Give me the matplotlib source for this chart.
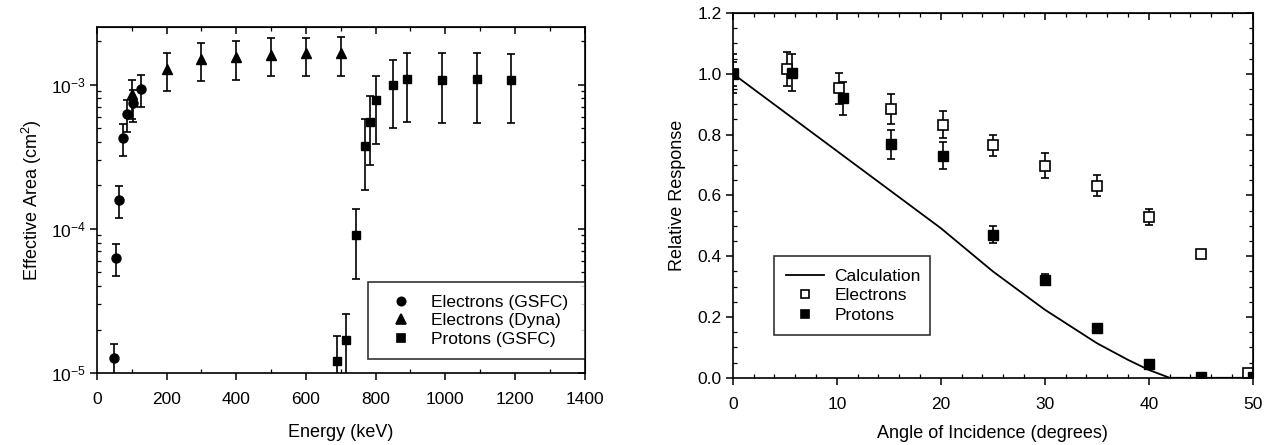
import matplotlib
matplotlib.use("Agg")
import matplotlib.pyplot as plt
from matplotlib.lines import Line2D
from matplotlib.ticker import MultipleLocator, LogLocator, NullFormatter

plt.rcParams["font.family"] = ["Liberation Sans", "DejaVu Sans"]
plt.rcParams["mathtext.fontset"] = "custom"
plt.rcParams["mathtext.rm"] = "Liberation Sans"
plt.rcParams["mathtext.it"] = "Liberation Sans"
plt.rcParams["font.size"] = 12.5

# left panel: effective area vs energy
gsfc_e_energy = [50, 55, 63, 75, 85, 103, 125]
gsfc_e_area = [1.27e-5, 6.3e-5, 1.57e-4, 4.25e-4, 6.27e-4, 7.4e-4, 9.3e-4]
gsfc_e_low = [9.0e-6, 4.7e-5, 1.18e-4, 3.2e-4, 4.7e-4, 5.5e-4, 7.0e-4]
gsfc_e_high = [1.58e-5, 7.8e-5, 1.98e-4, 5.35e-4, 7.8e-4, 9.1e-4, 1.16e-3]

dyna_e_energy = [100, 200, 300, 400, 500, 600, 700]
dyna_e_area = [8.6e-4, 1.29e-3, 1.51e-3, 1.55e-3, 1.61e-3, 1.66e-3, 1.66e-3]
dyna_e_low = [5.8e-4, 9.0e-4, 1.05e-3, 1.08e-3, 1.14e-3, 1.15e-3, 1.15e-3]
dyna_e_high = [1.08e-3, 1.66e-3, 1.94e-3, 2.0e-3, 2.1e-3, 2.1e-3, 2.13e-3]

gsfc_p_energy = [690, 715, 745, 770, 785, 800, 850, 890, 990, 1090, 1190]
gsfc_p_area = [1.2e-5, 1.69e-5, 9.0e-5, 3.72e-4, 5.48e-4, 7.75e-4, 9.85e-4, 1.10e-3, 1.07e-3, 1.09e-3, 1.07e-3]
gsfc_p_low = [9.0e-6, 9.0e-6, 4.5e-5, 1.87e-4, 2.75e-4, 3.85e-4, 4.98e-4, 5.48e-4, 5.4e-4, 5.45e-4, 5.4e-4]
gsfc_p_high = [1.8e-5, 2.55e-5, 1.36e-4, 5.8e-4, 8.3e-4, 1.15e-3, 1.48e-3, 1.66e-3, 1.66e-3, 1.66e-3, 1.64e-3]

# right panel: relative response vs angle
calc_angle = [0, 5, 10, 15, 20, 25, 30, 35, 38, 40, 42, 50]
calc_response = [1.0, 0.873, 0.746, 0.619, 0.492, 0.35, 0.224, 0.114, 0.059, 0.026, 0.0, 0.0]

elec_angle = [0, 5.2, 10.2, 15.2, 20.2, 25, 30, 35, 40, 45, 49.5]
elec_response = [1.0, 1.015, 0.952, 0.884, 0.832, 0.764, 0.698, 0.632, 0.530, 0.407, 0.015]
elec_err = [0.04, 0.055, 0.05, 0.048, 0.045, 0.036, 0.041, 0.035, 0.026, 0.014, 0.0]

prot_angle = [0, 5.7, 10.6, 15.2, 20.2, 25, 30, 35, 40, 45, 50]
prot_response = [1.0, 1.004, 0.919, 0.768, 0.730, 0.470, 0.322, 0.163, 0.046, 0.003, 0.003]
prot_err = [0.065, 0.06, 0.055, 0.047, 0.044, 0.028, 0.018, 0.0, 0.0, 0.0, 0.0]


def asym(values, low, high):
    return [[v - lo for v, lo in zip(values, low)], [hi - v for v, hi in zip(values, high)]]


def marker_handle(marker, size, face="black"):
    return Line2D([], [], linestyle="none", marker=marker, markersize=size,
                  markerfacecolor=face, markeredgecolor="black", markeredgewidth=1.2)


fig = plt.figure(figsize=(12.68, 4.45), dpi=100)
ax1 = fig.add_axes([0.0765, 0.162, 0.3845, 0.777])
ax2 = fig.add_axes([0.578, 0.151, 0.410, 0.820])

bar_kw = dict(color="black", ecolor="black", elinewidth=1.2, capsize=3, capthick=1.2, linestyle="none")
ax1.errorbar(gsfc_e_energy, gsfc_e_area, yerr=asym(gsfc_e_area, gsfc_e_low, gsfc_e_high),
             marker="o", markersize=6.5, **bar_kw)
ax1.errorbar(dyna_e_energy, dyna_e_area, yerr=asym(dyna_e_area, dyna_e_low, dyna_e_high),
             marker="^", markersize=7, **bar_kw)
ax1.errorbar(gsfc_p_energy, gsfc_p_area, yerr=asym(gsfc_p_area, gsfc_p_low, gsfc_p_high),
             marker="s", markersize=6, **bar_kw)

ax1.set_yscale("log")
ax1.set_xlim(0, 1400)
ax1.set_ylim(1e-5, 2.5e-3)
ax1.xaxis.set_major_locator(MultipleLocator(200))
ax1.xaxis.set_minor_locator(MultipleLocator(100))
ax1.yaxis.set_major_locator(LogLocator(base=10))
ax1.yaxis.set_minor_locator(LogLocator(base=10, subs=range(2, 10)))
ax1.yaxis.set_minor_formatter(NullFormatter())
ax1.set_xlabel("Energy (keV)", fontsize=13, labelpad=12)
ax1.set_ylabel("Effective Area (cm$^2$)", fontsize=13, labelpad=5)
leg1 = ax1.legend([marker_handle("o", 6), marker_handle("^", 6.5), marker_handle("s", 5.5)],
                  ["Electrons (GSFC)", "Electrons (Dyna)", "Protons (GSFC)"],
                  loc="lower left", bbox_to_anchor=(0.555, 0.04, 0.445, 0.252), mode="expand",
                  borderaxespad=0, frameon=True, fancybox=False, edgecolor="black", fontsize=12.5,
                  handlelength=2.5, handletextpad=0.48, borderpad=0.7, labelspacing=0.2)
leg1.get_frame().set_linewidth(1.2)

ax2.plot(calc_angle, calc_response, color="black", linewidth=1.3)
ax2.errorbar(elec_angle, elec_response, yerr=elec_err, marker="s", markersize=6.5,
             markerfacecolor="white", markeredgecolor="black", markeredgewidth=1.2, **bar_kw)
ax2.errorbar(prot_angle, prot_response, yerr=prot_err, marker="s", markersize=6.5, **bar_kw)
ax2.set_xlim(0, 50)
ax2.set_ylim(0, 1.2)
ax2.xaxis.set_major_locator(MultipleLocator(10))
ax2.xaxis.set_minor_locator(MultipleLocator(2))
ax2.yaxis.set_major_locator(MultipleLocator(0.2))
ax2.yaxis.set_minor_locator(MultipleLocator(0.05))
ax2.yaxis.set_major_formatter(plt.FormatStrFormatter("%.1f"))
ax2.set_xlabel("Angle of Incidence (degrees)", fontsize=13, labelpad=9)
ax2.set_ylabel("Relative Response", fontsize=13, labelpad=8)
leg2 = ax2.legend([Line2D([], [], color="black", linewidth=1.3), marker_handle("s", 5.5, "white"),
                   marker_handle("s", 5.5)],
                  ["Calculation", "Electrons", "Protons"],
                  loc="lower left", bbox_to_anchor=(0.079, 0.118, 0.300, 0.224), mode="expand",
                  borderaxespad=0, frameon=True, fancybox=False, edgecolor="black", fontsize=12.5,
                  handlelength=2.2, handletextpad=0.57, borderpad=0.7, labelspacing=0.25)
leg2.get_frame().set_linewidth(1.2)

for ax in (ax1, ax2):
    for spine in ax.spines.values():
        spine.set_linewidth(1.2)
    ax.tick_params(which="major", direction="out", length=5, width=1.1, labelsize=12.5)
    ax.tick_params(which="minor", direction="in", length=3, width=0.9)
    ax.tick_params(axis="x", which="major", pad=9)
    ax.tick_params(axis="y", which="major", pad=3)

sec_x1 = ax1.secondary_xaxis("top")
sec_x1.xaxis.set_major_locator(MultipleLocator(200))
sec_x1.xaxis.set_minor_locator(MultipleLocator(100))
sec_y1 = ax1.secondary_yaxis("right")
sec_y1.yaxis.set_minor_locator(LogLocator(base=10, subs=range(2, 10)))
sec_x2 = ax2.secondary_xaxis("top")
sec_x2.xaxis.set_major_locator(MultipleLocator(10))
sec_x2.xaxis.set_minor_locator(MultipleLocator(2))
sec_y2 = ax2.secondary_yaxis("right")
sec_y2.yaxis.set_major_locator(MultipleLocator(0.2))
sec_y2.yaxis.set_minor_locator(MultipleLocator(0.05))
for sec in (sec_x1, sec_y1, sec_x2, sec_y2):
    sec.tick_params(which="major", direction="in", length=5, width=1.1,
                    labeltop=False, labelright=False)
    sec.tick_params(which="minor", direction="in", length=3, width=0.9)
    sec.yaxis.set_minor_formatter(NullFormatter())

fig.savefig("out.png", dpi=100)
